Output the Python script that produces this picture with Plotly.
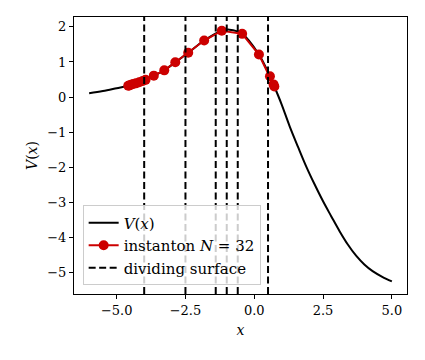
import plotly.graph_objects as go

# potential curve
curve_x = [-6.0, -5.5, -5.0, -4.58, -4.09, -3.65, -3.27, -2.87, -2.40, -1.82, -1.18, -0.9,
           -0.44, 0.17, 0.57, 0.73, 0.99, 1.29, 1.59, 1.89, 2.20, 2.50, 2.80, 3.10, 3.40,
           3.70, 4.00, 4.30, 4.65, 5.0]
curve_v = [0.11, 0.17, 0.25, 0.32, 0.47, 0.61, 0.76, 0.99, 1.26, 1.61, 1.89, 1.92,
           1.80, 1.21, 0.59, 0.30, -0.20, -0.84, -1.42, -1.98, -2.50, -2.97, -3.40, -3.82, -4.20,
           -4.52, -4.77, -4.96, -5.12, -5.25]

# instanton beads (N = 32, many overlap near the turning points)
inst_x = [-4.58, -4.54, -4.48, -4.40, -4.30, -4.18, -4.05, -3.95, -3.65, -3.27, -2.87,
          -2.40, -1.82, -1.18, -0.44, 0.17, 0.57, 0.70, 0.73]
inst_v = [0.32, 0.33, 0.35, 0.37, 0.39, 0.42, 0.46, 0.49, 0.61, 0.76, 0.99,
          1.26, 1.61, 1.89, 1.80, 1.21, 0.59, 0.36, 0.30]

# dividing surfaces
div_x = [-4.0, -2.5, -1.4, -1.0, -0.6, 0.5]

x_range = [-6.55, 5.55]
y_range = [-5.61, 2.28]

FONT = "DejaVu Serif"

div_lx, div_ly = [], []
for xv in div_x:
    div_lx += [xv, xv, None]
    div_ly += [y_range[0], y_range[1], None]

fig = go.Figure()
fig.add_trace(go.Scatter(x=curve_x, y=curve_v, mode="lines", name="<i>V</i>(<i>x</i>)",
                         line=dict(color="black", width=2, shape="spline", smoothing=1.0)))
fig.add_trace(go.Scatter(x=inst_x, y=inst_v, mode="lines+markers",
                         name="instanton <i>N</i> = 32",
                         line=dict(color="#cc0000", width=2),
                         marker=dict(color="#cc0000", size=10)))
fig.add_trace(go.Scatter(x=div_lx, y=div_ly, mode="lines", name="dividing surface",
                         line=dict(color="black", width=2, dash="7px,3.5px")))

axis_common = dict(showline=True, linecolor="black", linewidth=1.2, mirror=True,
                   showgrid=False, zeroline=False, ticks="outside", ticklen=4,
                   tickcolor="black", tickwidth=1, automargin=False,
                   tickfont=dict(family=FONT, size=13, color="black"))

fig.update_xaxes(range=x_range, tickvals=[-5, -2.5, 0, 2.5, 5], tickformat=".1f",
                 title=dict(text="<i>x</i>", font=dict(family=FONT, size=14, color="black"),
                            standoff=8),
                 **axis_common)
fig.update_yaxes(range=y_range, tickvals=[2, 1, 0, -1, -2, -3, -4, -5],
                 title=dict(text="<i>V</i>(<i>x</i>)", font=dict(family=FONT, size=14, color="black"),
                            standoff=6),
                 **axis_common)

# the page body adds an 8px margin, so the figure is drawn 8px smaller
fig.update_layout(
    width=417, height=352,
    margin=dict(l=66, r=18, t=9, b=66),
    plot_bgcolor="white", paper_bgcolor="white",
    font=dict(family=FONT, size=14, color="black"),
    legend=dict(x=0.026, y=0.031, xanchor="left", yanchor="bottom",
                bgcolor="rgba(255,255,255,0.8)", bordercolor="#cccccc", borderwidth=1,
                font=dict(family=FONT, size=15, color="black"), tracegroupgap=2),
)

fig.write_html("out.html")
